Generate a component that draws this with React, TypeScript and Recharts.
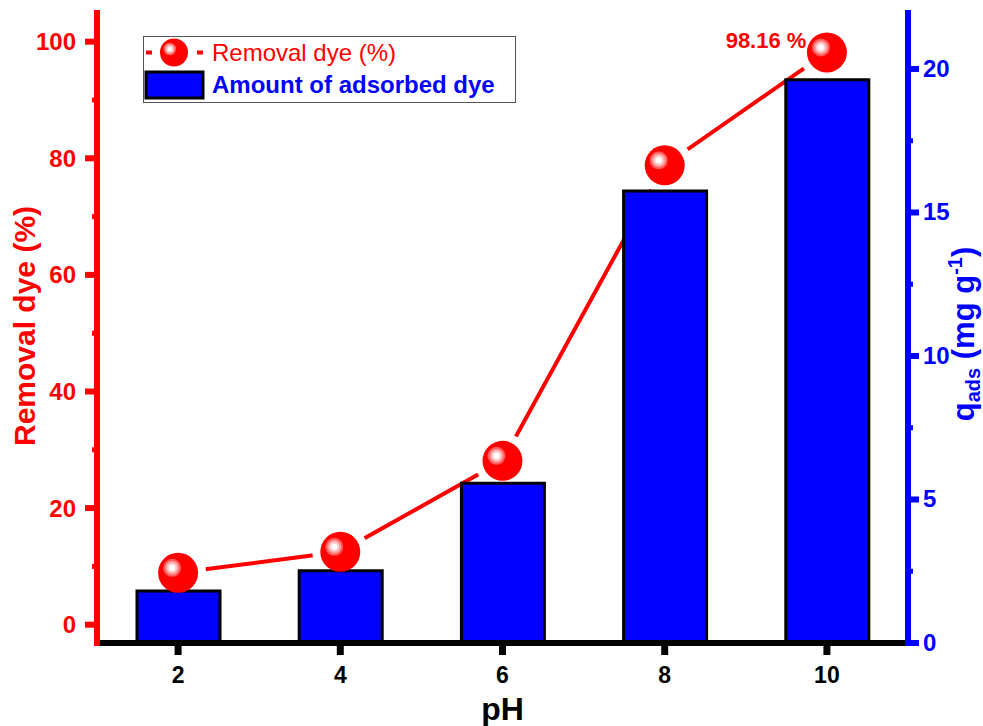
import React from "react";
import {
  Bar,
  ComposedChart,
  Legend,
  Line,
  Scatter,
  XAxis,
  YAxis,
} from "recharts";

const phValues = [2, 4, 6, 8, 10];
const removalPercent = [8.9, 12.5, 28.1, 78.8, 98.16];
const adsorbedAmount = [1.81, 2.52, 5.57, 15.75, 19.62];

const xTicks = [2, 4, 6, 8, 10];
const leftTicks = [0, 10, 20, 30, 40, 50, 60, 70, 80, 90, 100];
const rightTicks = [0, 2.5, 5, 7.5, 10, 12.5, 15, 17.5, 20];

const data = phValues.map((ph, i) => ({
  ph,
  removal: removalPercent[i],
  adsorbed: adsorbedAmount[i],
}));

const FONT = "'Liberation Sans', Arial, Helvetica, sans-serif";
const RED = "#FF0000";
const BLUE = "#0000FF";

// shaded ball: red disc with a pink/white highlight up and to the left
const Ball = ({ cx, cy, r }: { cx: number; cy: number; r: number }) => {
  const k = r / 20;
  const hx = cx - 6 * k;
  const hy = cy - 5 * k;
  return (
    <g>
      <circle cx={cx} cy={cy} r={r} fill={RED} />
      <circle cx={hx} cy={hy} r={9 * k} fill="#ff5a5a" />
      <circle cx={hx} cy={hy} r={7 * k} fill="#ff9a9a" />
      <circle cx={hx} cy={hy} r={5 * k} fill="#ffd0d0" />
      <circle cx={hx} cy={hy} r={3 * k} fill="#ffffff" />
    </g>
  );
};

const sphereShape = (props: any) => {
  const { cx, cy } = props;
  return <Ball cx={cx} cy={cy} r={20} />;
};

// white disc under each ball so the line stops short of it
const gapShape = (props: any) => {
  const { cx, cy } = props;
  return <circle cx={cx} cy={cy} r={28} fill="#ffffff" />;
};

const peakLabel = (props: any) => {
  const { x, y, index } = props;
  if (index !== removalPercent.length - 1) return null;
  return (
    <text
      key="peak"
      x={x - 16}
      y={y}
      textAnchor="end"
      fill={RED}
      fontSize={22}
      fontWeight="bold"
      fontFamily={FONT}
    >
      {`${removalPercent[index]} %`}
    </text>
  );
};

const LeftTick = (props: any) => {
  const { x, y, payload } = props;
  const major = payload.value % 20 === 0;
  return (
    <g>
      <line
        x1={x}
        x2={x - (major ? 12 : 5)}
        y1={y}
        y2={y}
        stroke={RED}
        strokeWidth={major ? 6 : 5}
      />
      {major && (
        <text
          x={x - 21}
          y={y + 8.5}
          textAnchor="end"
          fill={RED}
          fontSize={24}
          fontWeight="bold"
          fontFamily={FONT}
        >
          {payload.value}
        </text>
      )}
    </g>
  );
};

const RightTick = (props: any) => {
  const { x, y, payload } = props;
  const major = payload.value % 5 === 0;
  return (
    <g>
      <line
        x1={x}
        x2={x + (major ? 11 : 5)}
        y1={y}
        y2={y}
        stroke={BLUE}
        strokeWidth={major ? 6 : 5}
      />
      {major && (
        <text
          x={x + 15}
          y={y + 8}
          textAnchor="start"
          fill={BLUE}
          fontSize={24}
          fontWeight="bold"
          fontFamily={FONT}
        >
          {payload.value}
        </text>
      )}
    </g>
  );
};

const BottomTick = (props: any) => {
  const { x, y, payload } = props;
  return (
    <g>
      <line x1={x} x2={x} y1={y} y2={y + 12} stroke="#000" strokeWidth={7} />
      <text
        x={x}
        y={y + 40}
        textAnchor="middle"
        fill="#000"
        fontSize={23}
        fontWeight="bold"
        fontFamily={FONT}
      >
        {payload.value}
      </text>
    </g>
  );
};

const LeftAxisTitle = (props: any) => {
  const { viewBox } = props;
  const x = viewBox.x + 35;
  const y = viewBox.y + viewBox.height / 2 - 2;
  return (
    <text
      x={x}
      y={y}
      transform={`rotate(-90, ${x}, ${y})`}
      textAnchor="middle"
      fill={RED}
      fontSize={30}
      fontWeight="bold"
      fontFamily={FONT}
    >
      Removal dye (%)
    </text>
  );
};

const RightAxisTitle = (props: any) => {
  const { viewBox } = props;
  const x = viewBox.x + 66;
  const y = viewBox.y + viewBox.height / 2 + 6;
  return (
    <text
      x={x}
      y={y}
      transform={`rotate(-90, ${x}, ${y})`}
      textAnchor="middle"
      fill={BLUE}
      fontSize={31}
      fontWeight="bold"
      fontFamily={FONT}
    >
      <tspan>q</tspan>
      <tspan fontSize={20} dy={6}>
        ads
      </tspan>
      <tspan dy={-6}> (mg g</tspan>
      <tspan fontSize={20} dy={-12}>
        -1
      </tspan>
      <tspan dy={12}>)</tspan>
    </text>
  );
};

const XTitle = (props: any) => {
  const { viewBox } = props;
  return (
    <text
      x={viewBox.x + viewBox.width / 2}
      y={viewBox.y + 77}
      textAnchor="middle"
      fill="#000"
      fontSize={32}
      fontWeight="bold"
      fontFamily={FONT}
    >
      pH
    </text>
  );
};

const LegendBox = () => (
  <svg width={374} height={68} style={{ display: "block" }}>
    <rect x={0.5} y={0.5} width={372} height={66} fill="#fff" stroke="#555" strokeWidth={1} />
    <line x1={3} x2={9} y1={16.5} y2={16.5} stroke={RED} strokeWidth={4} />
    <line x1={54} x2={60} y1={16.5} y2={16.5} stroke={RED} strokeWidth={4} />
    <Ball cx={31} cy={16.5} r={14} />
    <text x={69} y={25} fill={RED} fontSize={24} fontFamily={FONT}>
      Removal dye (%)
    </text>
    <rect x={3} y={36} width={57} height={26} fill={BLUE} stroke="#000" strokeWidth={3} />
    <text x={69} y={57} fill={BLUE} fontSize={24} fontWeight="bold" fontFamily={FONT}>
      Amount of adsorbed dye
    </text>
  </svg>
);

export default function App() {
  return (
    <div style={{ position: "absolute", left: 0, top: 0, background: "#fff" }}>
      <ComposedChart
        width={983}
        height={726}
        data={data}
        margin={{ top: 13, right: 0, bottom: 0, left: 0 }}
      >
        <XAxis
          xAxisId="x"
          dataKey="ph"
          type="number"
          domain={[1, 11]}
          allowDataOverflow
          ticks={xTicks}
          interval={0}
          height={83}
          tickSize={0}
          tickMargin={0}
          tickLine={false}
          tick={<BottomTick />}
          axisLine={{ stroke: "#000", strokeWidth: 6, strokeLinecap: "square" }}
          label={<XTitle />}
        />
        <XAxis
          xAxisId="top"
          orientation="top"
          dataKey="ph"
          type="number"
          domain={[1, 11]}
          allowDataOverflow
          height={0}
          tick={false}
          tickLine={false}
          axisLine={{ stroke: "#000", strokeWidth: 6, strokeLinecap: "square" }}
        />
        <YAxis
          yAxisId="left"
          orientation="left"
          type="number"
          domain={[-3.14, 104.92]}
          allowDataOverflow
          ticks={leftTicks}
          interval={0}
          width={97}
          tickSize={0}
          tickMargin={0}
          tickLine={false}
          tick={<LeftTick />}
          axisLine={{ stroke: RED, strokeWidth: 6, strokeLinecap: "square" }}
          label={<LeftAxisTitle />}
        />
        <YAxis
          yAxisId="right"
          orientation="right"
          type="number"
          domain={[0, 21.95]}
          allowDataOverflow
          ticks={rightTicks}
          interval={0}
          width={75}
          tickSize={0}
          tickMargin={0}
          tickLine={false}
          tick={<RightTick />}
          axisLine={{ stroke: BLUE, strokeWidth: 6, strokeLinecap: "square" }}
          label={<RightAxisTitle />}
        />
        <Legend
          layout="vertical"
          align="center"
          verticalAlign="middle"
          content={() => <LegendBox />}
          wrapperStyle={{ left: 143, top: 36, width: 374, height: 68 }}
        />
        <Line
          xAxisId="x"
          yAxisId="left"
          dataKey="removal"
          stroke={RED}
          strokeWidth={4}
          dot={false}
          activeDot={false}
          legendType="none"
          isAnimationActive={false}
          zIndex={250}
        />
        <Scatter
          xAxisId="x"
          yAxisId="left"
          dataKey="removal"
          shape={gapShape}
          legendType="none"
          isAnimationActive={false}
          zIndex={260}
        />
        <Bar
          xAxisId="x"
          yAxisId="right"
          dataKey="adsorbed"
          barSize={83}
          fill={BLUE}
          stroke="#000"
          strokeWidth={3}
          isAnimationActive={false}
          zIndex={300}
        />
        <Scatter
          xAxisId="x"
          yAxisId="left"
          dataKey="removal"
          shape={sphereShape}
          label={peakLabel}
          legendType="none"
          isAnimationActive={false}
          zIndex={600}
        />
      </ComposedChart>
    </div>
  );
}
